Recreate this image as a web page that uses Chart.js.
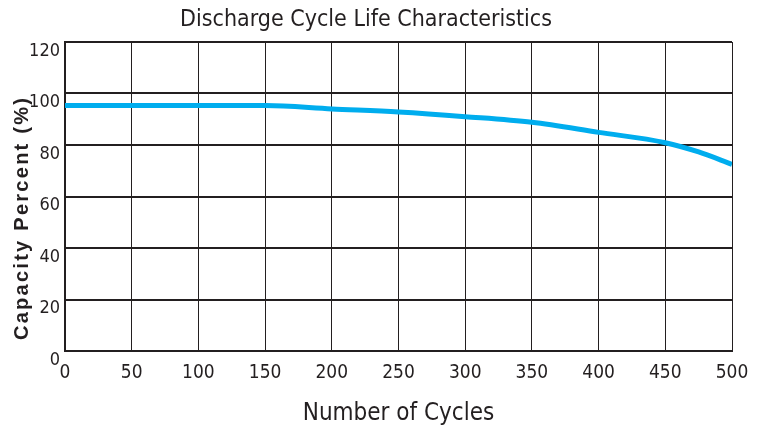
<!DOCTYPE html>
<html>
<head>
<meta charset="utf-8">
<script src="https://cdn.jsdelivr.net/npm/chart.js@4.4.0/dist/chart.umd.min.js"></script>
<style>
  html, body { margin: 0; padding: 0; background: #fff; }
  #wrap { width: 758px; height: 428px; }
</style>
</head>
<body>
<div id="wrap"><canvas id="cycle-chart" width="758" height="428"></canvas></div>
<script>
// Data
var cycles = [0, 50, 100, 150, 200, 250, 300, 350, 400, 450, 475, 500];
var capacity = [95.3, 95.3, 95.3, 95.3, 94.0, 92.8, 91.0, 88.8, 84.9, 80.9, 77.3, 72.5];
var xTicks = [0, 50, 100, 150, 200, 250, 300, 350, 400, 450, 500];
var yTicks = [0, 20, 40, 60, 80, 100, 120];
var yTitle = 'Capacity Percent (%)';

var narrow = "'Liberation Sans Narrow', 'DejaVu Sans Condensed', sans-serif";
var ink = '#231f20';

var points = cycles.map(function (c, i) {
  return { x: c, y: capacity[i] };
});

// Rotated, letter-spaced y axis title (Chart.js title has no letter spacing)
var yTitlePlugin = {
  id: 'yTitle',
  afterDraw: function (chart) {
    var c = chart.ctx;
    c.save();
    c.font = "bold 20px 'Liberation Sans', Arial, sans-serif";
    var plain = c.measureText(yTitle).width;
    var spacing = Math.max(0, (242 - plain) / (yTitle.length - 1));
    c.letterSpacing = spacing + 'px';
    c.fillStyle = ink;
    c.textAlign = 'center';
    c.textBaseline = 'middle';
    c.translate(22, 219);
    c.rotate(-Math.PI / 2);
    c.fillText(yTitle, spacing / 2, 0);
    c.restore();
  }
};

var ctx = document.getElementById('cycle-chart').getContext('2d');
var chart = new Chart(ctx, {
  type: 'line',
  data: {
    datasets: [
      {
        label: 'Capacity',
        data: points,
        borderColor: '#00adee',
        borderWidth: 5,
        pointRadius: 0,
        fill: false,
        cubicInterpolationMode: 'monotone'
      }
    ]
  },
  plugins: [yTitlePlugin],
  options: {
    responsive: false,
    animation: false,
    layout: { padding: { left: 0, right: 26, top: 0, bottom: 0 } },
    plugins: {
      legend: { display: false },
      tooltip: { enabled: false },
      title: {
        display: true,
        text: 'Discharge Cycle Life Characteristics',
        color: ink,
        font: { family: narrow, size: 23, weight: 'normal', lineHeight: 1.2 },
        padding: { top: 6, bottom: 8.4 }
      }
    },
    scales: {
      x: {
        type: 'linear',
        min: 0,
        max: 500,
        afterBuildTicks: function (scale) {
          scale.ticks = xTicks.map(function (v) { return { value: v }; });
        },
        afterFit: function (scale) {
          scale.height = 77;
          scale.paddingLeft = 0;
          scale.paddingRight = 0;
        },
        grid: { color: ink, lineWidth: 1, drawTicks: false },
        border: { color: ink, width: 2 },
        ticks: {
          color: ink,
          font: { family: narrow, size: 19 },
          padding: 11,
          maxRotation: 0
        },
        title: {
          display: true,
          text: 'Number of Cycles',
          color: ink,
          font: { family: narrow, size: 24 },
          padding: { top: 12, bottom: 0 }
        }
      },
      y: {
        min: 0,
        max: 120,
        afterBuildTicks: function (scale) {
          scale.ticks = yTicks.map(function (v) { return { value: v }; });
        },
        afterFit: function (scale) { scale.width = 65; },
        grid: { color: ink, lineWidth: 2, drawTicks: false },
        border: { color: ink, width: 2 },
        ticks: {
          color: ink,
          font: { family: narrow, size: 18 },
          padding: 5,
          labelOffset: 9
        },
        title: { display: false }
      }
    }
  }
});
</script>
</body>
</html>
